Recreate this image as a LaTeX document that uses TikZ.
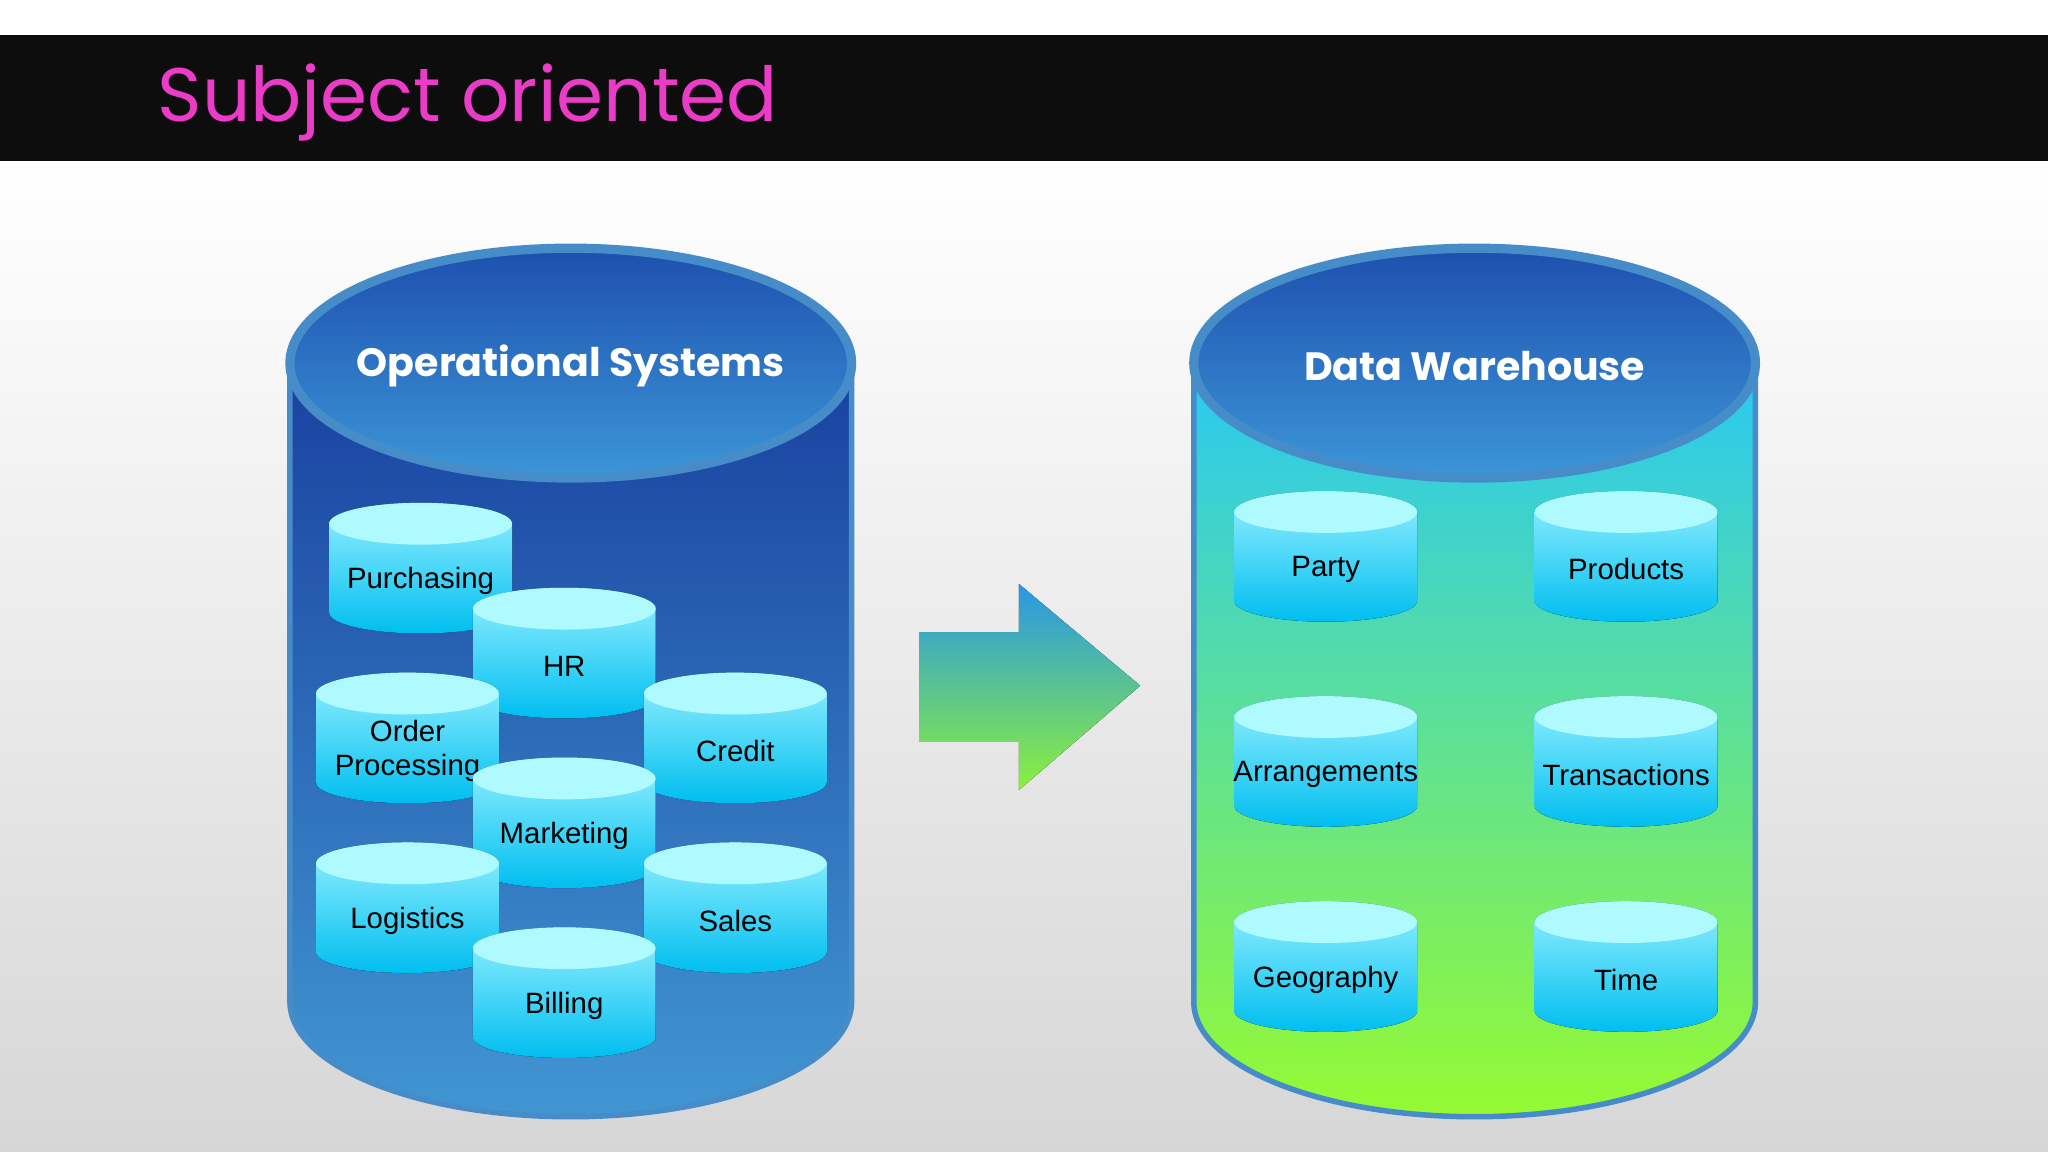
\documentclass[tikz,border=0pt]{standalone}
\usepackage{fontspec}
\setmainfont{Liberation Sans}
\newfontfamily\titlefont{Poppins}
\definecolor{mag}{RGB}{235,60,200}
\definecolor{cylA}{RGB}{150,240,255}
\definecolor{cylB}{RGB}{0,190,240}
\definecolor{capc}{RGB}{175,250,255}
\definecolor{lbA}{RGB}{25,65,160}
\definecolor{lbB}{RGB}{65,150,210}
\definecolor{rbA}{RGB}{40,200,245}
\definecolor{rbM}{RGB}{120,240,190}
\definecolor{rbB}{RGB}{150,250,50}
\definecolor{topA}{RGB}{30,80,175}
\definecolor{topB}{RGB}{60,150,215}
\definecolor{rim}{RGB}{70,140,200}
\definecolor{arA}{RGB}{40,150,230}
\definecolor{arB}{RGB}{140,240,60}
\tikzset{lbl/.style={font=\fontsize{6.4pt}{7.4pt}\selectfont,align=center,text=black},
 head/.style={font=\titlefont\bfseries\fontsize{8.6pt}{10pt}\selectfont,text=white}}
\newcommand\scyl[4]{%
 \fill[top color=cylA,bottom color=cylB] ({#2},{-#3-16}) -- ({#2},{-#3-84}) arc[start angle=180,end angle=360,x radius=70,y radius=16] -- ({#2+140},{-#3-16}) arc[start angle=0,end angle=180,x radius=70,y radius=16] -- cycle;
 \fill[capc] ({#2+70},{-#3-16}) ellipse[x radius=70,y radius=16];
 \node[lbl] (#1) at ({#2+70},{-#3-60}) {#4};}
\newcommand\bigcyl[4]{%
 \fill[#3,draw=rim,line width=1.2] ({#2},-278) -- ({#2},-767) arc[start angle=180,end angle=360,x radius=215,y radius=88] -- ({#2+430},-278) -- cycle;
 \fill[top color=topA,bottom color=topB,draw=rim,line width=2] ({#2+215},-278) ellipse[x radius=215,y radius=88];
 \node[head] (#1) at ({#2+215},-280) {#4};}
\begin{document}
\begin{tikzpicture}[x=0.01cm,y=0.01cm]
\useasboundingbox (0,0) rectangle (1568,-882);
\fill[white] (0,0) rectangle (1568,-27);
\fill[top color=white,bottom color=black!16] (0,-123) rectangle (1568,-882);
\fill[black!95] (0,-27) rectangle (1568,-123);
\node[anchor=base west,text=mag,font=\titlefont\fontsize{16.5pt}{20pt}\selectfont,inner sep=0] (title) at (120,-93) {Subject oriented};
\bigcyl{ops}{222}{top color=lbA,bottom color=lbB}{Operational Systems}
\bigcyl{dw}{914}{top color=rbA,middle color=rbM,bottom color=rbB}{Data Warehouse}
\fill[top color=arA,bottom color=arB] (704,-484)--(780,-484)--(780,-447)--(873,-525)--(780,-605)--(780,-568)--(704,-568)--cycle;
\scyl{pur}{252}{385}{Purchasing}
\scyl{hr}{362}{450}{HR}
\scyl{ord}{242}{515}{Order\\Processing}
\scyl{cre}{493}{515}{Credit}
\scyl{mkt}{362}{580}{Marketing}
\scyl{log}{242}{645}{Logistics}
\scyl{sal}{493}{645}{Sales}
\scyl{bil}{362}{710}{Billing}
\scyl{par}{945}{376}{Party}
\scyl{pro}{1175}{376}{Products}
\scyl{arr}{945}{533}{Arrangements}
\scyl{tra}{1175}{533}{Transactions}
\scyl{geo}{945}{690}{Geography}
\scyl{tim}{1175}{690}{Time}
\end{tikzpicture}
\end{document}
